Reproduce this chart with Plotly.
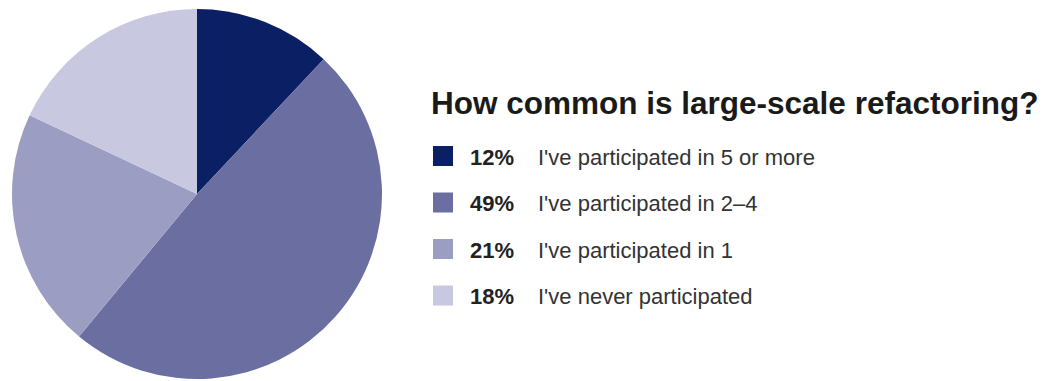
import plotly.graph_objects as go

W, H = 1045, 381

# Survey results
labels = [
    "I've participated in 5 or more",
    "I've participated in 2\u20134",
    "I've participated in 1",
    "I've never participated",
]
shares = [12, 49, 21, 18]
colors = ["#0b1f65", "#6a6ea0", "#9c9dc2", "#c8c9e0"]
title_text = "How common is large-scale refactoring?"


def px_x(x):
    return x / W


def px_y(y):
    return 1 - y / H


fig = go.Figure(
    go.Pie(
        values=shares,
        labels=labels,
        marker=dict(colors=colors, line=dict(width=0)),
        sort=False,
        direction="clockwise",
        rotation=0,
        textinfo="none",
        hoverinfo="label+percent",
        showlegend=False,
        domain=dict(x=[px_x(12), px_x(382)], y=[px_y(379), px_y(9)]),
    )
)

annotations = [
    dict(
        text=f"<b>{title_text}</b>",
        x=px_x(429), y=px_y(103), xref="paper", yref="paper",
        xanchor="left", yanchor="middle", showarrow=False,
        font=dict(family="Liberation Sans, Arial", size=31.5, color="#1a1a1a"),
    )
]
shapes = []
row_y0, row_step = 156, 46.5
for i, (lab, val, col) in enumerate(zip(labels, shares, colors)):
    cy = row_y0 + i * row_step
    shapes.append(dict(
        type="rect", xref="paper", yref="paper",
        x0=px_x(433), x1=px_x(453), y0=px_y(cy + 10), y1=px_y(cy - 10),
        fillcolor=col, line=dict(width=0),
    ))
    annotations.append(dict(
        text=f"<b>{val}%</b>", x=px_x(468), y=px_y(cy + 1), xref="paper", yref="paper",
        xanchor="left", yanchor="middle", showarrow=False,
        font=dict(family="Liberation Sans, Arial", size=22, color="#222222"),
    ))
    annotations.append(dict(
        text=lab, x=px_x(536), y=px_y(cy + 1), xref="paper", yref="paper",
        xanchor="left", yanchor="middle", showarrow=False,
        font=dict(family="Liberation Sans, Arial", size=22, color="#333333"),
    ))

fig.update_layout(
    width=W, height=H,
    margin=dict(l=0, r=0, t=0, b=0),
    paper_bgcolor="white", plot_bgcolor="white",
    annotations=annotations, shapes=shapes,
)

fig.write_html("out.html")
